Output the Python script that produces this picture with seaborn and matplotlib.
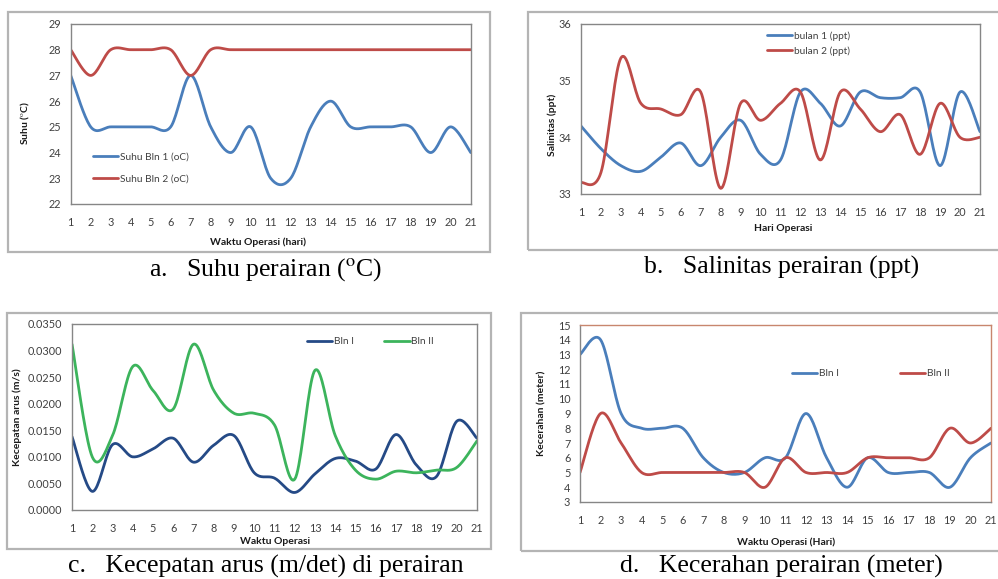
import numpy as np
import pandas as pd
import matplotlib
matplotlib.use("Agg")
import matplotlib.pyplot as plt
from matplotlib.patches import Rectangle
import seaborn as sns

# ---------------- data ----------------
days = list(range(1, 22))

suhu_bln1 = [27, 25, 25, 25, 25, 25, 27, 25, 24, 25, 23, 23, 25, 26, 25, 25, 25, 25, 24, 25, 24]
suhu_bln2 = [28, 27, 28, 28, 28, 28, 27, 28, 28, 28, 28, 28, 28, 28, 28, 28, 28, 28, 28, 28, 28]

sal_bulan1 = [34.2, 33.8, 33.5, 33.4, 33.65, 33.9, 33.5, 34.0, 34.3, 33.7, 33.6, 34.8,
              34.6, 34.2, 34.8, 34.7, 34.7, 34.8, 33.5, 34.8, 34.1]
sal_bulan2 = [33.2, 33.38, 35.4, 34.6, 34.5, 34.4, 34.8, 33.1, 34.6, 34.3, 34.6, 34.8,
              33.6, 34.8, 34.5, 34.1, 34.4, 33.7, 34.6, 34.0, 34.0]

arus_bln1 = [0.0138, 0.0035, 0.0123, 0.0100, 0.0115, 0.0135, 0.0090, 0.0122, 0.0140, 0.0070,
             0.0060, 0.0033, 0.0068, 0.0097, 0.0092, 0.0077, 0.0142, 0.0085, 0.0063, 0.0167, 0.0135]
arus_bln2 = [0.0312, 0.0100, 0.0140, 0.0270, 0.0225, 0.0190, 0.0312, 0.0225, 0.0182, 0.0182,
             0.0160, 0.0058, 0.0263, 0.0140, 0.0075, 0.0058, 0.0073, 0.0070, 0.0075, 0.0080, 0.0130]

cerah_bln1 = [13, 14, 9, 8, 8, 8, 6, 5, 5, 6, 6, 9, 6, 4, 6, 5, 5, 5, 4, 6, 7]
cerah_bln2 = [5, 9, 7, 5, 5, 5, 5, 5, 5, 4, 6, 5, 5, 5, 6, 6, 6, 6, 8, 7, 8]

captions = ["a.   Suhu perairan ($^{\\mathrm{o}}$C)",
            "b.   Salinitas perairan (ppt)",
            "c.   Kecepatan arus (m/det) di perairan",
            "d.   Kecerahan perairan (meter)"]

# ---------------- style ----------------
sns.set_style("white")
plt.rcParams['font.family'] = ['Lato', 'DejaVu Sans']
plt.rcParams['mathtext.fontset'] = 'stix'

W, H = 998, 579
fig = plt.figure(figsize=(W / 100, H / 100), dpi=100)


def smooth(x, y, n=20):
    """Excel-like smoothed line (Catmull-Rom) through the data points."""
    x = np.asarray(x, float)
    y = np.asarray(y, float)
    px = np.concatenate([[x[0]], x, [x[-1]]])
    py = np.concatenate([[y[0]], y, [y[-1]]])
    xs, ys = [], []
    for i in range(1, len(px) - 2):
        p0, p1, p2, p3 = py[i - 1], py[i], py[i + 1], py[i + 2]
        x0, x1, x2, x3 = px[i - 1], px[i], px[i + 1], px[i + 2]
        t = np.linspace(0, 1, n, endpoint=False)
        m1y = (p2 - p0) / 2.0
        m2y = (p3 - p1) / 2.0
        m1x = (x2 - x0) / 2.0
        m2x = (x3 - x1) / 2.0
        h00 = 2 * t**3 - 3 * t**2 + 1
        h10 = t**3 - 2 * t**2 + t
        h01 = -2 * t**3 + 3 * t**2
        h11 = t**3 - t**2
        xs.append(h00 * x1 + h10 * m1x + h01 * x2 + h11 * m2x)
        ys.append(h00 * p1 + h10 * m1y + h01 * p2 + h11 * m2y)
    xs.append([x[-1]])
    ys.append([y[-1]])
    return np.concatenate(xs), np.concatenate(ys)


def px_axes(l, r, t, b):
    return fig.add_axes([l / W, (H - b) / H, (r - l) / W, (b - t) / H])


def frame(l, r, t, b):
    fig.patches.append(Rectangle((l, H - b), r - l, b - t, transform=None,
                                 fill=False, edgecolor='#b4b4b4', linewidth=1.6))


def draw(ax, s1, s2, lab1, lab2, c1, c2):
    for s, lab, c in [(s1, lab1, c1), (s2, lab2, c2)]:
        xs, ys = smooth(days, s)
        df = pd.DataFrame({'x': xs, 'y': ys})
        sns.lineplot(data=df, x='x', y='y', ax=ax, color=c, linewidth=2.0,
                     sort=False, estimator=None, label=lab)


def style(ax, ylim, yticks, fmt, spine_col='#868686', topright='#868686'):
    ax.set_xlim(1, 21)
    ax.set_ylim(*ylim)
    ax.set_xticks(days)
    ax.set_xticklabels([str(d) for d in days])
    ax.set_yticks(yticks)
    ax.set_yticklabels([fmt(v) for v in yticks])
    for sp in ['left', 'bottom']:
        ax.spines[sp].set_color(spine_col)
        ax.spines[sp].set_linewidth(1.0)
    for sp in ['top', 'right']:
        ax.spines[sp].set_color(topright)
        ax.spines[sp].set_linewidth(1.0)
    ax.tick_params(axis='both', which='both', direction='out', length=4, width=0.9,
                   color='#868686', labelsize=7.8, labelcolor='#404040', pad=5)
    ax.tick_params(axis='y', pad=3)
    ax.set_xlabel('')
    ax.set_ylabel('')


def labels(ax, xl, yl, xpos, ypos, fs=7.5):
    fig.text(xpos[0] / W, 1 - xpos[1] / H, xl, ha='center', va='center',
             fontsize=fs, fontweight='bold', color='#1a1a1a')
    fig.text(ypos[0] / W, 1 - ypos[1] / H, yl, ha='center', va='center', rotation=90,
             fontsize=fs, fontweight='bold', color='#1a1a1a')


def legend(ax, anchor, ncol=1, colsp=2.0, rowsp=0.9):
    leg = ax.legend(loc='upper left', bbox_to_anchor=(anchor[0] / W, 1 - anchor[1] / H),
                    bbox_transform=fig.transFigure, frameon=False, ncol=ncol,
                    fontsize=7.3, handlelength=2.5, handletextpad=0.15,
                    columnspacing=colsp, labelspacing=rowsp, borderpad=0, borderaxespad=0)
    for t in leg.get_texts():
        t.set_color('#404040')
    for h in leg.get_lines():
        h.set_linewidth(2.0)


BLUE = '#4a7ebb'
RED = '#be4b48'
NAVY = '#254a86'
GREEN = '#3cb45c'

# ---------------- panel a ----------------
frame(8, 490, 12, 252)
axa = px_axes(70.7, 470.7, 24, 204)
draw(axa, suhu_bln1, suhu_bln2, 'Suhu Bln 1 (oC)', 'Suhu Bln 2 (oC)', BLUE, RED)
style(axa, (22, 29), list(range(22, 30)), lambda v: f"{v:d}")
labels(axa, 'Waktu Operasi (hari)', 'Suhu ($^{\\mathrm{o}}$C)', (258, 242), (25, 123))
legend(axa, (93, 152), rowsp=1.3)

# ---------------- panel b ----------------
frame(528, 1000, 12, 250)
axb = px_axes(581, 980, 24, 194)
draw(axb, sal_bulan1, sal_bulan2, 'bulan 1 (ppt)', 'bulan 2 (ppt)', BLUE, RED)
style(axb, (33, 36), [33, 34, 35, 36], lambda v: f"{v:d}")
labels(axb, 'Hari Operasi', 'Salinitas (ppt)', (783, 229), (552, 125))
legend(axb, (767, 31), rowsp=0.55)

# ---------------- panel c ----------------
frame(7, 491, 313, 549)
axc = px_axes(72, 477, 324, 510)
draw(axc, arus_bln1, arus_bln2, 'Bln I', 'Bln II', NAVY, GREEN)
style(axc, (0, 0.035), [0, 0.005, 0.01, 0.015, 0.02, 0.025, 0.03, 0.035],
      lambda v: f"{v:.4f}")
labels(axc, 'Waktu Operasi', 'Kecepatan arus (m/s)', (275, 541), (17, 417))
legend(axc, (307, 337), ncol=2, colsp=3.0)

# ---------------- panel d ----------------
frame(521, 1000, 313, 551)
axd = px_axes(580, 991, 325, 502)
draw(axd, cerah_bln1, cerah_bln2, 'Bln I', 'Bln II', BLUE, RED)
style(axd, (3, 15), list(range(3, 16)), lambda v: f"{v:d}", topright='#c8866e')
labels(axd, 'Waktu Operasi (Hari)', 'Kecerahan (meter)', (786, 542), (542, 413))
legend(axd, (792, 369), ncol=2, colsp=6.0)

# ---------------- captions ----------------
cap_pos = [(266, 270), (782, 267), (266, 566), (781, 566)]
for (cx, cy), txt in zip(cap_pos, captions):
    fig.text(cx / W, 1 - cy / H, txt, ha='center', va='center', fontsize=18.5,
             family=['Liberation Serif', 'DejaVu Serif'], color='black')

fig.savefig('out.png', dpi=100)
